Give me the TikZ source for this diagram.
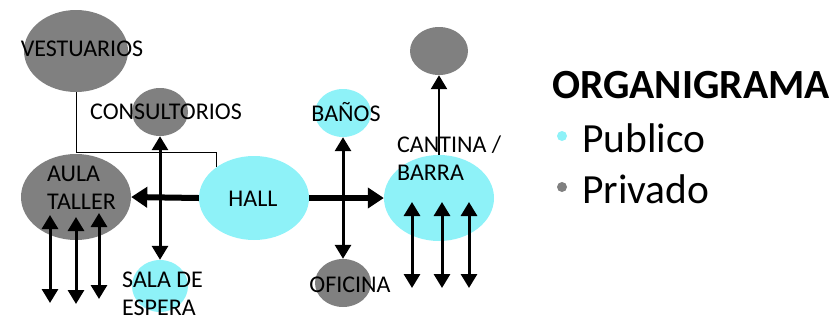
\documentclass[tikz,border=0pt]{standalone}
\usepackage{fontspec}
\setmainfont{Carlito}
\usetikzlibrary{arrows.meta,shapes.geometric}
\definecolor{pub}{RGB}{142,242,248}
\definecolor{priv}{RGB}{128,128,128}
\tikzset{
 area/.style={ellipse, inner sep=0pt, draw=none},
 pubarea/.style={area, fill=pub},
 privarea/.style={area, fill=priv},
 lbl/.style={font=\fontsize{24}{28}\selectfont, inner sep=0pt, align=left},
 legend/.style={font=\fontsize{41.5}{48}\selectfont, inner sep=0pt, anchor=west},
 link/.style={line width=3pt, {Triangle[length=14pt,width=16pt]}-{Triangle[length=14pt,width=16pt]}},
 uplink/.style={line width=2.5pt, -{Triangle[length=14pt,width=16pt]}},
 mainlink/.style={line width=6pt, -{Triangle[length=16pt,width=20pt]}},
 thinline/.style={line width=1pt},
}
\begin{document}
\begin{tikzpicture}[x=1pt,y=-1pt]
\useasboundingbox (0,0) rectangle (837,322);
% areas
\node[privarea, minimum width=104pt, minimum height=82pt] (vest) at (76,51) {};
\node[privarea, minimum width=56pt, minimum height=48pt] (cons) at (160,112) {};
\node[privarea, minimum width=110pt, minimum height=86pt] (aula) at (76,197) {};
\node[pubarea, minimum width=110pt, minimum height=84pt] (hall) at (254,198) {};
\node[pubarea, minimum width=56pt, minimum height=52pt] (sala) at (160,286) {};
\node[pubarea, minimum width=56pt, minimum height=48pt] (banos) at (343,113) {};
\node[privarea, minimum width=56pt, minimum height=48pt] (ofic) at (343,283) {};
\node[pubarea, minimum width=110pt, minimum height=86pt] (cant) at (439,198) {};
\node[privarea, minimum width=58pt, minimum height=48pt] (top) at (439,51) {};
% connectors
\coordinate (v1) at (76,152);
\coordinate (v2) at (216,152);
\coordinate (v3) at (216,167);
\draw[thinline] (vest.south) -- (v1) -- (v2) -- (v3);
\draw[mainlink] (hall.west) -- (aula.east);
\draw[mainlink] (hall.east) -- (cant.west);
\draw[link] (cons.south) -- (sala.north);
\draw[link] (banos.south) -- (ofic.north);
\draw[uplink] (cant.north) -- (top.south);
% aula arrows
\coordinate (a1t) at (50,215); \coordinate (a1b) at (50,303);
\coordinate (a2t) at (76,217); \coordinate (a2b) at (76,304);
\coordinate (a3t) at (99,213); \coordinate (a3b) at (99,299);
\draw[link] (a1t) -- (a1b);
\draw[link] (a2t) -- (a2b);
\draw[link] (a3t) -- (a3b);
% cantina arrows
\coordinate (c1t) at (412,202); \coordinate (c1b) at (412,288);
\coordinate (c2t) at (442,202); \coordinate (c2b) at (442,288);
\coordinate (c3t) at (469,202); \coordinate (c3b) at (469,288);
\draw[link] (c1t) -- (c1b);
\draw[link] (c2t) -- (c2b);
\draw[link] (c3t) -- (c3b);
% labels
\node[lbl] (tvest) at (82,49) {VESTUARIOS};
\node[lbl] (tcons) at (166,112) {CONSULTORIOS};
\node[lbl, anchor=west] (taula) at (47,188) {AULA\\TALLER};
\node[lbl] (thall) at (253,199) {HALL};
\node[lbl] (tbanos) at (346,112) {BAÑOS};
\node[lbl] (tofic) at (350,285) {OFICINA};
\node[lbl, anchor=west] (tcant) at (397,158) {CANTINA /\\BARRA};
\node[lbl, anchor=west] (tsala) at (122,294) {SALA DE\\ESPERA};
% legend
\node[legend, font=\fontsize{41.5}{48}\selectfont\bfseries] (ltitle) at (552,85) {ORGANIGRAMA};
\node[circle, fill=pub, minimum size=10pt, inner sep=0pt] (bpub) at (562,136) {};
\node[legend] (lpub) at (582,138) {Publico};
\node[circle, fill=priv, minimum size=10pt, inner sep=0pt] (bpriv) at (562,187) {};
\node[legend] (lpriv) at (582,189) {Privado};
\end{tikzpicture}
\end{document}
